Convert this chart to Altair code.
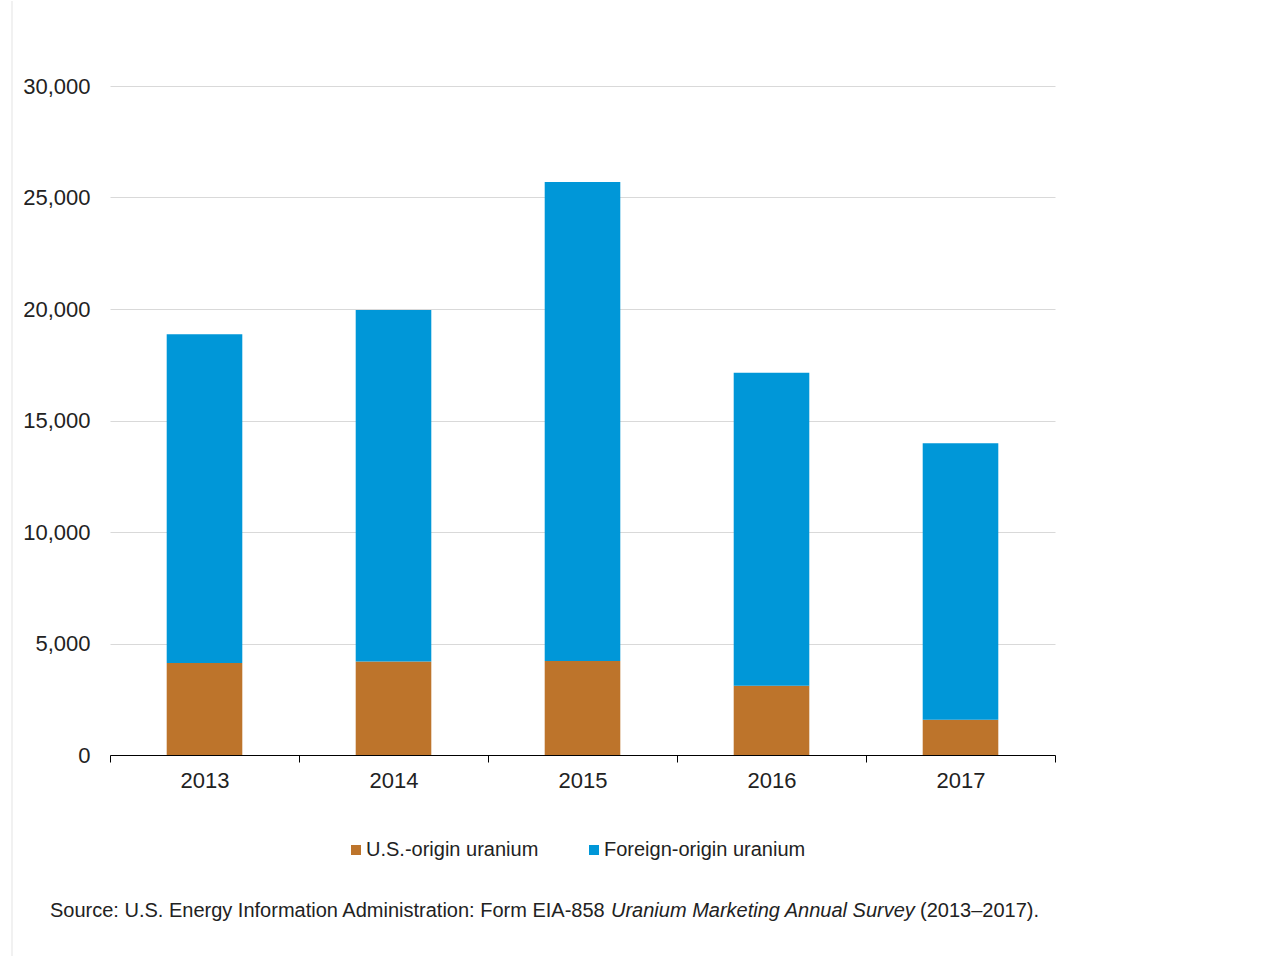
import altair as alt
import pandas as pd

# Uranium purchased by owners and operators of U.S. civilian nuclear power reactors
years = ["2013", "2014", "2015", "2016", "2017"]
us_origin = [4130, 4190, 4220, 3110, 1580]
foreign_origin = [14740, 15760, 21480, 14030, 12400]
series = ["U.S.-origin uranium", "Foreign-origin uranium"]
colors = ["#BD742B", "#0097D8"]
y_ticks = [0, 5000, 10000, 15000, 20000, 25000, 30000]

source_plain = "Source: U.S. Energy Information Administration: Form EIA-858"
source_italic = "Uranium Marketing Annual Survey"
source_tail = "(2013\u20132017)."

rows = []
for i, yr in enumerate(years):
    rows.append({"year": yr, "series": series[0], "value": us_origin[i], "ord": 0})
    rows.append({"year": yr, "series": series[1], "value": foreign_origin[i], "ord": 1})
df = pd.DataFrame(rows)

FONT = "Liberation Sans"
W, H = 945, 669

bars = alt.Chart(df).mark_bar(width={"band": 0.4}).encode(
    x=alt.X(
        "year:N",
        title=None,
        scale=alt.Scale(paddingInner=0, paddingOuter=0),
        axis=alt.Axis(
            labelAngle=0,
            labelFontSize=22,
            labelFont=FONT,
            labelColor="#222222",
            labelPadding=8,
            tickSize=7,
            tickColor="#000000",
            domainColor="#000000",
            tickBand="extent",
            grid=False,
        ),
    ),
    y=alt.Y(
        "value:Q",
        title=None,
        stack="zero",
        scale=alt.Scale(domain=[0, 30000], nice=False),
        axis=alt.Axis(
            values=y_ticks,
            format=",.0f",
            labelFontSize=22,
            labelFont=FONT,
            labelColor="#222222",
            labelPadding=20,
            ticks=False,
            domain=False,
            gridColor="#D9D9D9",
            gridWidth=1,
        ),
    ),
    color=alt.Color(
        "series:N",
        scale=alt.Scale(domain=series, range=colors),
        legend=alt.Legend(
            title=None,
            orient="none",
            direction="horizontal",
            legendX=236,
            legendY=754,
            symbolType="square",
            symbolSize=100,
            symbolStrokeWidth=0,
            labelFontSize=20,
            labelFont=FONT,
            labelColor="#222222",
            labelOffset=0,
            labelLimit=400,
            columnPadding=45,
        ),
    ),
    order=alt.Order("ord:Q"),
)

one = pd.DataFrame({"k": [0]})

# thin light frame line along the left edge of the figure
edge = alt.Chart(one).mark_rule(color="#E3E3E3", strokeWidth=1).encode(
    x=alt.value(-98), y=alt.value(-85), y2=alt.value(871)
)

def note(text, x, italic=False):
    return alt.Chart(one).mark_text(
        text=text,
        align="left",
        baseline="middle",
        font=FONT,
        fontSize=20,
        fontStyle="italic" if italic else "normal",
        color="#222222",
    ).encode(x=alt.value(x), y=alt.value(825))

chart = alt.layer(
    bars,
    edge,
    note(source_plain, -60),
    note(source_italic, 501, italic=True),
    note(source_tail, 810),
).properties(
    width=W,
    height=H,
    padding={"left": 11, "top": 0, "right": 0, "bottom": 0},
    background="white",
).configure_view(stroke=None)

chart.save("out.html", embed_options={"renderer": "svg", "actions": False})
